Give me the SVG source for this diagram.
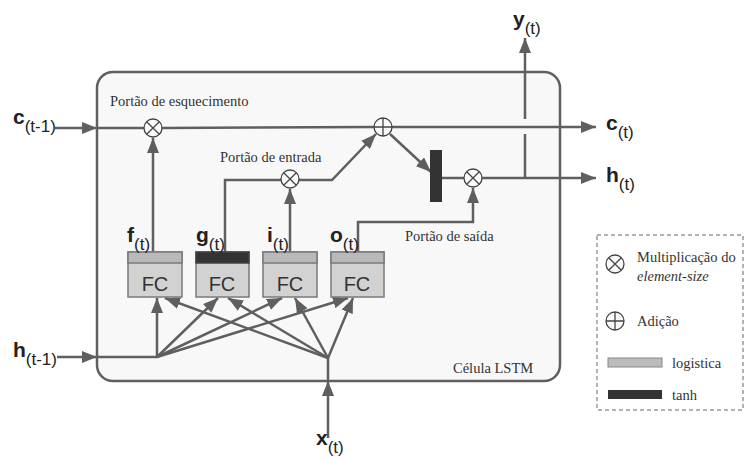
<svg xmlns="http://www.w3.org/2000/svg" width="751" height="459" viewBox="0 0 751 459">
<style>
.ln{fill:none;stroke:#5f5f5f;stroke-width:2.5;stroke-linejoin:miter}
.ar{marker-end:url(#ah)}
.op{fill:#fafafa;stroke:#444;stroke-width:1.3}
.opx{stroke:#444;stroke-width:1.3;fill:none}
.fcb{fill:#d2d2d2;stroke:#7a7a7a;stroke-width:1.5}
.fch{fill:#b9b9b9;stroke:#7a7a7a;stroke-width:1.5}
.fct{font-family:"Liberation Sans",Arial,sans-serif;font-size:20px;fill:#333;text-anchor:middle}
.var{font-family:"Liberation Sans",Arial,sans-serif;font-size:21px;font-weight:bold;fill:#222}
.sub{font-family:"Liberation Sans",Arial,sans-serif;font-size:17px;fill:#222}
.lbl{font-family:"Liberation Serif","Times New Roman",serif;font-size:14.5px;fill:#333}
</style>
<defs>
<marker id="ah" markerUnits="userSpaceOnUse" markerWidth="16" markerHeight="12" refX="15" refY="6" orient="auto">
<path d="M0,0 L15,6 L0,12 Z" fill="#5f5f5f"/>
</marker>
<g id="mul"><circle r="9" class="op"/><path d="M-6.3,-6.3 L6.3,6.3 M-6.3,6.3 L6.3,-6.3" class="opx"/></g>
<g id="add"><circle r="9" class="op"/><path d="M-9,0 L9,0 M0,-9 L0,9" class="opx"/></g>
</defs>
<rect width="751" height="459" fill="#fff"/>
<g id="cell">
<rect x="97" y="72" width="463" height="309" rx="16" fill="#f8f8f8" stroke="#5f5f5f" stroke-width="2.5"/>
<text class="lbl" x="453" y="373">Célula LSTM</text>
</g>
<g id="connectors">
<line class="ln ar" x1="55" y1="128" x2="97" y2="128"/>
<line class="ln" x1="97" y1="128" x2="144" y2="128"/>
<line class="ln" x1="162" y1="128" x2="374" y2="127"/>
<line class="ln ar" x1="392" y1="127" x2="596" y2="127"/>
<line class="ln ar" x1="153" y1="252" x2="153" y2="138"/>
<polyline class="ln" points="225,252 225,180 281,180"/>
<line class="ln ar" x1="290" y1="252" x2="290" y2="189"/>
<polyline class="ln ar" points="299,180 332,180 376,134"/>
<line class="ln ar" x1="390" y1="134" x2="431" y2="172"/>
<line class="ln" x1="442" y1="178" x2="464" y2="178"/>
<polyline class="ln ar" points="358,252 358,222 473,222 473,188"/>
<line class="ln ar" x1="482" y1="178" x2="596" y2="178"/>
<line class="ln" x1="525" y1="178" x2="525" y2="134"/>
<line class="ln ar" x1="525" y1="119" x2="525" y2="38"/>
<line class="ln ar" x1="57" y1="357" x2="97" y2="357"/>
<line class="ln" x1="97" y1="357" x2="157" y2="357"/>
<line class="ln ar" x1="157" y1="357" x2="157" y2="298"/>
<line class="ln ar" x1="157" y1="357" x2="218" y2="298"/>
<line class="ln ar" x1="157" y1="357" x2="282" y2="298"/>
<line class="ln ar" x1="157" y1="357" x2="348" y2="298"/>
<line class="ln ar" x1="328" y1="438" x2="328" y2="381"/>
<line class="ln" x1="328" y1="381" x2="328" y2="358"/>
<line class="ln ar" x1="328" y1="358" x2="165" y2="298"/>
<line class="ln ar" x1="328" y1="358" x2="228" y2="298"/>
<line class="ln ar" x1="328" y1="358" x2="295" y2="298"/>
<line class="ln ar" x1="328" y1="358" x2="353" y2="298"/>
</g>
<g id="forget-mul"><use href="#mul" x="153" y="128"/><text class="lbl" x="110" y="106">Portão de esquecimento</text></g>
<g id="input-mul"><use href="#mul" x="290" y="179"/><text class="lbl" x="220" y="162">Portão de entrada</text></g>
<g id="plus"><use href="#add" x="383" y="127"/></g>
<g id="tanh"><rect x="430" y="150" width="12" height="52" fill="#333"/></g>
<g id="output-mul"><use href="#mul" x="473" y="178"/><text class="lbl" x="405" y="241">Portão de saída</text></g>
<g id="fc-f"><rect class="fcb" x="128" y="252" width="54" height="45"/><rect class="fch" x="128" y="252" width="54" height="11"/><text class="fct" x="155" y="291">FC</text>
<text x="127" y="242"><tspan class="var">f</tspan><tspan class="sub" dy="8">(t)</tspan></text></g>
<g id="fc-g"><rect class="fcb" x="196" y="252" width="53" height="45"/><rect x="196" y="252" width="53" height="11" fill="#333" stroke="#444" stroke-width="1.5"/><text class="fct" x="222" y="291">FC</text>
<text x="196" y="242"><tspan class="var">g</tspan><tspan class="sub" dy="8">(t)</tspan></text></g>
<g id="fc-i"><rect class="fcb" x="263" y="252" width="54" height="45"/><rect class="fch" x="263" y="252" width="54" height="11"/><text class="fct" x="290" y="291">FC</text>
<text x="267" y="242"><tspan class="var">i</tspan><tspan class="sub" dy="8">(t)</tspan></text></g>
<g id="fc-o"><rect class="fcb" x="331" y="252" width="53" height="45"/><rect class="fch" x="331" y="252" width="53" height="11"/><text class="fct" x="357" y="291">FC</text>
<text x="330" y="242"><tspan class="var">o</tspan><tspan class="sub" dy="8">(t)</tspan></text></g>
<g id="in-c"><text x="13" y="124"><tspan class="var">c</tspan><tspan class="sub" dy="8">(t-1)</tspan></text></g>
<g id="in-h"><text x="13" y="357"><tspan class="var">h</tspan><tspan class="sub" dy="8">(t-1)</tspan></text></g>
<g id="in-x"><text x="316" y="445"><tspan class="var">x</tspan><tspan class="sub" dy="8">(t)</tspan></text></g>
<g id="out-c"><text x="606" y="130"><tspan class="var">c</tspan><tspan class="sub" dy="8">(t)</tspan></text></g>
<g id="out-h"><text x="606" y="182"><tspan class="var">h</tspan><tspan class="sub" dy="8">(t)</tspan></text></g>
<g id="out-y"><text x="513" y="26"><tspan class="var">y</tspan><tspan class="sub" dy="8">(t)</tspan></text></g>
<g id="legend">
<rect x="597" y="235" width="146" height="175" fill="none" stroke="#666" stroke-width="1" stroke-dasharray="4 3"/>
<use href="#mul" x="615" y="264"/>
<text class="lbl" x="637" y="262">Multiplicação do</text>
<text class="lbl" x="637" y="281" font-style="italic">element-size</text>
<use href="#add" x="615" y="321"/>
<text class="lbl" x="637" y="326">Adição</text>
<rect x="608" y="358" width="54" height="9" fill="#bcbcbc" stroke="#888" stroke-width="1"/>
<text class="lbl" x="672" y="368">logistica</text>
<rect x="608" y="390" width="54" height="9" fill="#333"/>
<text class="lbl" x="672" y="400">tanh</text>
</g>
</svg>
